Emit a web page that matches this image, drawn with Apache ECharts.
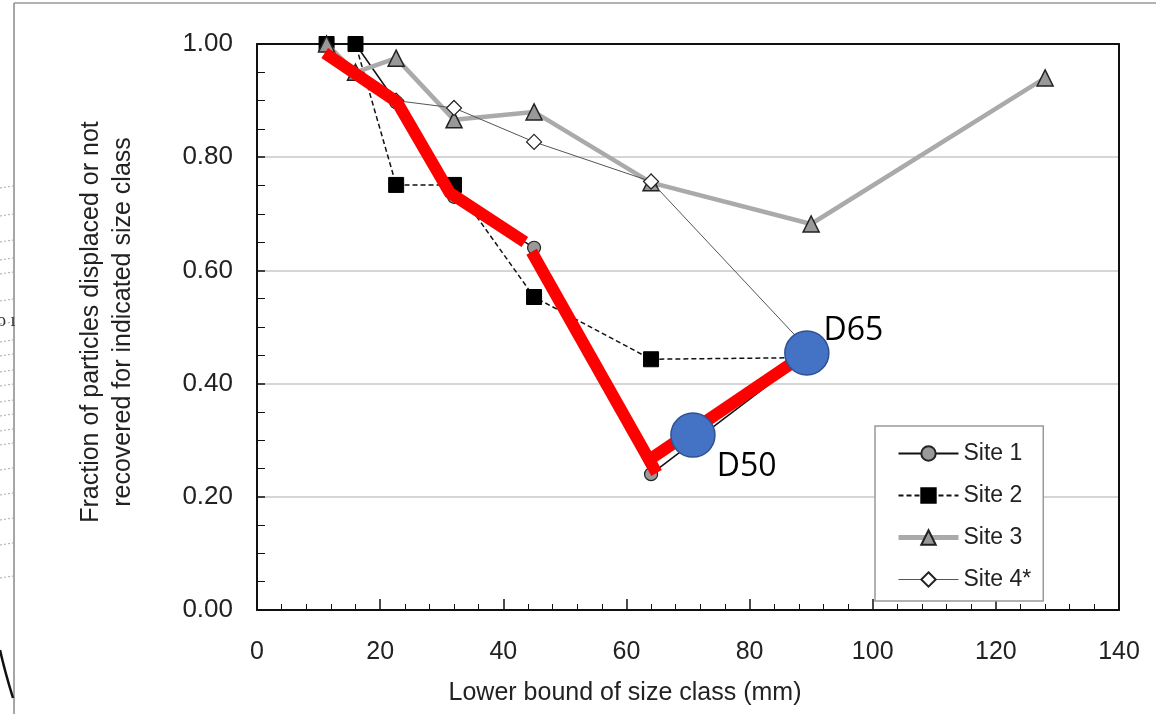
<!DOCTYPE html>
<html><head><meta charset="utf-8">
<script src="https://cdn.jsdelivr.net/npm/echarts@6/dist/echarts.min.js"></script>
<style>html,body{margin:0;padding:0;background:#fff}#c{width:1156px;height:714px}</style>
</head><body><div id="c"></div>
<script>
// Lower bound of size class (mm)
const sizeClasses = [11.3, 16, 22.6, 32, 45, 64, 90, 128];
const site4Classes = [22.6, 32, 45, 64, 90];
// Fraction displaced / not recovered
const site1 = [1.00, 1.00, 0.897, 0.73, 0.64, 0.24, 0.455];
const site2 = [1.00, 1.00, 0.751, 0.751, 0.553, 0.443, 0.446];
const site3 = [1.00, 0.95, 0.975, 0.866, 0.88, 0.755, 0.682, 0.94];
const site4 = [0.90, 0.887, 0.827, 0.757, 0.455];
// Hand-drawn red overlay segments [x, y]
const redSegA = [[11.0, 0.984], [22.7, 0.898], [31.3, 0.737], [43.5, 0.65]];
const redSegB = [[44.6, 0.633], [64.9, 0.242]];
const redSegC = [[64.3, 0.27], [89.3, 0.454]];
// Annotated points
const annotNames = ['D50', 'D65'];
const annotX = [70.8, 89.3];
const annotY = [0.309, 0.454];
const yTickLabels = ['0.00', '0.20', '0.40', '0.60', '0.80', '1.00'];
const xTickLabels = ['0', '20', '40', '60', '80', '100', '120', '140'];

const pair = (xs, ys) => ys.map((v, i) => [xs[i], v]);
const FONT = '"Liberation Sans", Arial, sans-serif';

const chart = echarts.init(document.getElementById('c'), null, {renderer: 'canvas'});

const labelOffsets = [[-4, 32], [-11, -22]];

const dotted = [];
[186, 214, 240, 258, 272, 299, 322, 340, 354, 370, 384, 400, 414, 429, 443, 468, 493, 518, 543, 576].forEach(y => {
  dotted.push({type: 'line', shape: {x1: 0, y1: y + 2, x2: 13, y2: y}, style: {stroke: '#aaa', lineWidth: 1, lineDash: [2, 2]}, silent: true});
});

const frameAxis = {show: true, onZero: false, lineStyle: {color: '#111', width: 2}};

chart.setOption({
  animation: false,
  backgroundColor: '#fff',
  grid: {left: 257, right: 37, top: 44, bottom: 104, show: false},
  xAxis: [{
    type: 'value', min: 0, max: 140, interval: 20,
    axisLine: frameAxis,
    axisTick: {show: true, inside: true, length: 11, lineStyle: {color: '#111', width: 1.5}},
    minorTick: {show: true, splitNumber: 5, length: 6, lineStyle: {color: '#111', width: 1}},
    splitLine: {show: false},
    axisLabel: {margin: 30, fontSize: 25, fontFamily: FONT, color: '#222',
      formatter: (v) => xTickLabels[Math.round(v / 20)] ?? String(v)}
  }, {
    type: 'value', position: 'top', min: 0, max: 140, interval: 20,
    axisLine: frameAxis, axisTick: {show: false}, axisLabel: {show: false}, splitLine: {show: false}
  }],
  yAxis: [{
    type: 'value', min: 0, max: 1, interval: 0.2,
    axisLine: frameAxis,
    axisTick: {show: true, inside: true, length: 8, lineStyle: {color: '#111', width: 1.5}},
    minorTick: {show: true, splitNumber: 4, length: 8, lineStyle: {color: '#111', width: 1}},
    splitLine: {show: true, lineStyle: {color: '#c8c8c8', width: 1.5}},
    axisLabel: {margin: 24, fontSize: 26, fontFamily: FONT, color: '#222',
      formatter: (v) => yTickLabels[Math.round(v / 0.2)] ?? v.toFixed(2)}
  }, {
    type: 'value', position: 'right', min: 0, max: 1, interval: 0.2,
    axisLine: frameAxis, axisTick: {show: false}, axisLabel: {show: false}, splitLine: {show: false}
  }],
  legend: {
    data: [
      {name: 'Site 1'},
      {name: 'Site 2'},
      {name: 'Site 3', lineStyle: {width: 5, color: '#aaa'}},
      {name: 'Site 4*', lineStyle: {width: 1, color: '#555'}}
    ],
    orient: 'vertical', left: 875, top: 426,
    itemWidth: 60, itemHeight: 18, itemGap: 19,
    padding: [16, 12, 10, 21],
    borderColor: '#999', borderWidth: 1.5, backgroundColor: '#fff', borderRadius: 0,
    textStyle: {fontSize: 23, fontFamily: FONT, color: '#222'},
    selectedMode: false
  },
  series: [
    {name: 'Site 1', type: 'line', data: pair(sizeClasses, site1), z: 2,
      symbol: 'circle', symbolSize: 13,
      lineStyle: {color: '#111', width: 1.5},
      itemStyle: {color: '#999', borderColor: '#222', borderWidth: 1.2}},
    {name: 'Site 2', type: 'line', data: pair(sizeClasses, site2), z: 2,
      symbol: 'rect', symbolSize: 15,
      lineStyle: {color: '#111', width: 1.5, type: [5, 3]},
      itemStyle: {color: '#000', borderColor: '#000', borderWidth: 1}},
    {name: 'Site 3', type: 'line', data: pair(sizeClasses, site3), z: 3,
      symbol: 'triangle', symbolSize: 16,
      lineStyle: {color: '#aaa', width: 4.5},
      itemStyle: {color: '#999', borderColor: '#222', borderWidth: 1.5}},
    {name: 'Site 4*', type: 'line', data: pair(site4Classes, site4), z: 4,
      symbol: 'diamond', symbolSize: 15,
      lineStyle: {color: '#555', width: 1},
      itemStyle: {color: '#fff', borderColor: '#222', borderWidth: 1.2}},
    {name: 'redA', type: 'line', data: redSegA, z: 10, symbol: 'none', silent: true,
      lineStyle: {color: '#ff0000', width: 12, cap: 'butt', join: 'miter'}},
    {name: 'redB', type: 'line', data: redSegB, z: 10, symbol: 'none', silent: true,
      lineStyle: {color: '#ff0000', width: 12, cap: 'butt', join: 'miter'}},
    {name: 'redC', type: 'line', data: redSegC, z: 10, symbol: 'none', silent: true,
      lineStyle: {color: '#ff0000', width: 12, cap: 'butt', join: 'miter'}},
    {name: 'annot', type: 'scatter', z: 12, silent: true,
      symbol: 'circle', symbolSize: 44,
      itemStyle: {color: '#4472C4', borderColor: '#2F528F', borderWidth: 1.5, opacity: 1},
      data: annotNames.map((n, i) => ({
        name: n, value: [annotX[i], annotY[i]],
        label: {show: true, formatter: '{b}', position: 'right', offset: labelOffsets[i],
          fontSize: 32, fontFamily: '"Open Sans", "Noto Sans", sans-serif', color: '#000'}
      }))}
  ],
  graphic: [
    {type: 'line', shape: {x1: 14, y1: 3, x2: 1156, y2: 3}, style: {stroke: '#999', lineWidth: 1.5}, silent: true},
    {type: 'line', shape: {x1: 14, y1: 3, x2: 14, y2: 714}, style: {stroke: '#888', lineWidth: 1.5}, silent: true},
    ...dotted,
    {type: 'text', x: -3, y: 312, style: {text: 'o ı', font: '18px "Liberation Serif", serif', fill: '#333'}, silent: true},
    {type: 'bezierCurve', shape: {x1: 0, y1: 650, x2: 13, y2: 698, cpx1: 5, cpy1: 672}, style: {stroke: '#111', lineWidth: 2.5, fill: null}, silent: true},
    {type: 'text', x: 91, y: 322, rotation: Math.PI / 2,
      style: {text: 'Fraction of particles displaced or not', font: '25px ' + FONT, fill: '#222', textAlign: 'center', textVerticalAlign: 'middle'}, silent: true},
    {type: 'text', x: 123, y: 322, rotation: Math.PI / 2,
      style: {text: 'recovered for indicated size class', font: '25px ' + FONT, fill: '#222', textAlign: 'center', textVerticalAlign: 'middle'}, silent: true},
    {type: 'text', x: 625, y: 693,
      style: {text: 'Lower bound of size class (mm)', font: '25px ' + FONT, fill: '#222', textAlign: 'center', textVerticalAlign: 'middle'}, silent: true}
  ]
});
</script></body></html>
